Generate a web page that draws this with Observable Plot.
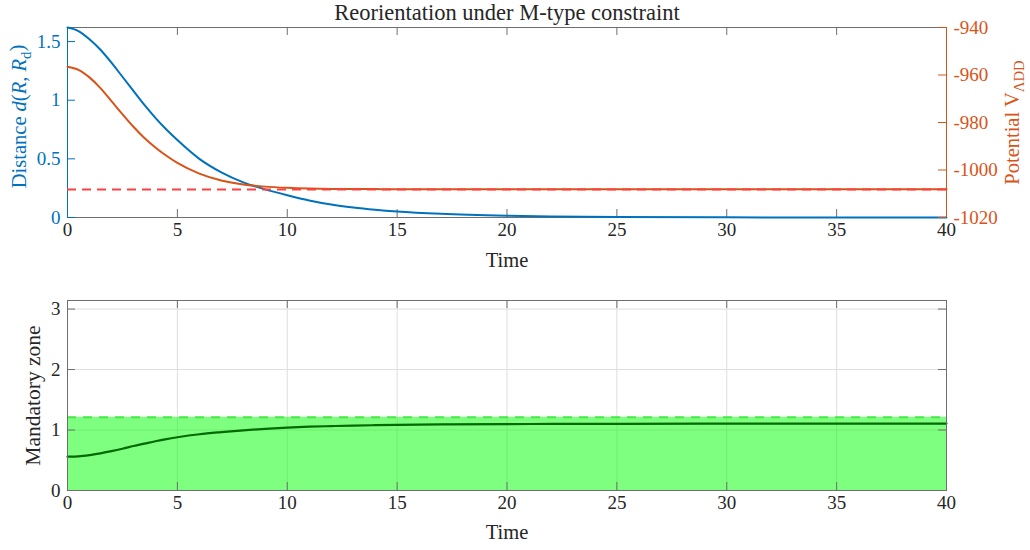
<!DOCTYPE html>
<html>
<head>
<meta charset="utf-8">
<script src="https://cdn.jsdelivr.net/npm/d3@7"></script>
<script src="https://cdn.jsdelivr.net/npm/@observablehq/plot@0.6"></script>
<style>
  html, body { margin: 0; padding: 0; background: #fff; overflow: hidden; }
  #wrap { position: relative; width: 1030px; height: 550px; }
  #wrap svg { position: absolute; left: 0; background: transparent; }
  #wrap svg text { font-family: 'Liberation Serif', 'DejaVu Serif', serif; }
</style>
</head>
<body>
<div id="wrap"></div>
<script>
// ---------------- data ----------------
const time      = [0, 0.5, 1, 1.5, 2, 2.5, 3, 3.5, 4, 4.5, 5, 6, 7, 8, 9, 10, 11, 12, 13, 14, 15, 17, 20, 22, 25, 30, 35, 40];
const distance  = [1.62, 1.59, 1.52, 1.43, 1.32, 1.20, 1.08, 0.96, 0.85, 0.75, 0.66, 0.50, 0.385, 0.30, 0.24, 0.19, 0.145, 0.11, 0.085, 0.066, 0.051, 0.031, 0.015, 0.009, 0.004, 0.0012, 0.0004, 0.0001];
const potential = [-956.5, -957.8, -961, -965.5, -971, -976.5, -981.8, -986.5, -990.5, -994, -997, -1001.5, -1004.4, -1006.1, -1007.0, -1007.5, -1007.8, -1007.95, -1008.0, -1008.05, -1008.1, -1008.1, -1008.15, -1008.15, -1008.15, -1008.15, -1008.15, -1008.15];
const zone      = [0.56, 0.565, 0.585, 0.615, 0.65, 0.69, 0.735, 0.775, 0.815, 0.85, 0.88, 0.93, 0.965, 0.995, 1.02, 1.04, 1.055, 1.065, 1.074, 1.08, 1.085, 1.092, 1.098, 1.1, 1.103, 1.105, 1.106, 1.106];
const potentialMin = -1008.2;
const zoneLimit = 1.21;
const distMax = 1.62;

const xTicks    = [0, 5, 10, 15, 20, 25, 30, 35, 40];
const distTicks = [0, 0.5, 1, 1.5];
const potTicks  = [-1020, -1000, -980, -960, -940];
const zoneTicks = [0, 1, 2, 3];

const titleText = "Reorientation under M-type constraint";
const xLabel    = "Time";
const distLabel = "Distance d(R, Rd)";
const potLabel  = "Potential VΛDD";
const zoneLabel = "Mandatory zone";

// ---------------- styles ----------------
const FONT = "'Liberation Serif', 'DejaVu Serif', serif";
const BLUE = "#0072BD", ORANGE = "#D95319", TXT = "#262626", LINE = "#6e6e6e";
const W = 1030, ML = 67, MR = 84;
const innerW = W - ML - MR;
const TICK = 8;
const TF = 19;   // tick font size
const LF = 20.5; // label font size
const TTF = 22.5; // title font size

const distData = time.map((t, i) => ({t, v: distance[i]}));
const potData  = time.map((t, i) => ({t, v: potential[i]}));
const zoneData = time.map((t, i) => ({t, v: zone[i]}));
const fmt = d => String(d);

const baseStyle = {fontFamily: FONT, fontSize: TF + "px", color: TXT, background: "transparent", overflow: "visible"};

// ---------------- top panel (left axis) ----------------
const H1 = 280, MT1 = 27, MB1 = 63, innerH1 = H1 - MT1 - MB1;
const p1 = Plot.plot({
  width: W, height: H1, marginTop: MT1, marginBottom: MB1, marginLeft: ML, marginRight: MR,
  style: baseStyle,
  x: {domain: [0, 40]},
  y: {domain: [0, distMax]},
  marks: [
    Plot.ruleY([distMax], {stroke: LINE}),
    Plot.ruleY([0], {stroke: LINE}),
    Plot.tickX(xTicks, {x: d => d, insetTop: innerH1 - TICK, stroke: LINE}),
    Plot.tickX(xTicks, {x: d => d, insetBottom: innerH1 - TICK, stroke: LINE}),
    Plot.tickY(distTicks, {y: d => d, insetRight: innerW - TICK, stroke: BLUE}),
    Plot.ruleX([0], {stroke: BLUE}),
    Plot.line(distData, {x: "t", y: "v", stroke: BLUE, strokeWidth: 2, curve: "monotone-x"}),
    Plot.axisX({ticks: xTicks, tickSize: 0, tickPadding: 5, tickFormat: fmt, label: null, fill: TXT, fontSize: TF, fontFamily: FONT}),
    Plot.axisY({ticks: distTicks, tickSize: 0, tickPadding: 7, tickFormat: fmt, label: null, color: BLUE, fill: BLUE, fontSize: TF, fontFamily: FONT}),
    Plot.text([xLabel], {frameAnchor: "bottom", lineAnchor: "middle", dy: 43, fontSize: LF, fill: TXT}),
    Plot.text([distLabel], {frameAnchor: "left", textAnchor: "middle", lineAnchor: "middle", dx: -48, dy: -6, rotate: -90, fontSize: LF, fill: BLUE}),
    Plot.text([titleText], {frameAnchor: "top", lineAnchor: "middle", dy: -15, fontSize: TTF, fill: TXT})
  ]
});

// ---------------- top panel (right axis overlay) ----------------
const p2 = Plot.plot({
  width: W, height: H1, marginTop: MT1, marginBottom: MB1, marginLeft: ML, marginRight: MR,
  style: baseStyle,
  x: {domain: [0, 40], axis: null},
  y: {domain: [-1020, -940], axis: null},
  marks: [
    Plot.ruleX([40], {stroke: ORANGE}),
    Plot.tickY(potTicks, {y: d => d, insetLeft: innerW - TICK, stroke: ORANGE}),
    Plot.line(potData, {x: "t", y: "v", stroke: ORANGE, strokeWidth: 2, curve: "monotone-x"}),
    Plot.ruleY([potentialMin], {stroke: "#FF4040", strokeWidth: 2, strokeDasharray: "9,6"}),
    Plot.axisY({anchor: "right", ticks: potTicks, tickSize: 0, tickPadding: 7, tickFormat: fmt, label: null, color: ORANGE, fill: ORANGE, fontSize: TF, fontFamily: FONT}),
    Plot.text([potLabel], {frameAnchor: "right", textAnchor: "middle", lineAnchor: "middle", dx: 66, rotate: -90, fontSize: LF, fill: ORANGE})
  ]
});

// ---------------- bottom panel ----------------
const H3 = 270, MT3 = 20, MB3 = 60, innerH3 = H3 - MT3 - MB3;
const p3 = Plot.plot({
  width: W, height: H3, marginTop: MT3, marginBottom: MB3, marginLeft: ML, marginRight: MR,
  style: baseStyle,
  x: {domain: [0, 40]},
  y: {domain: [0, Math.PI]},
  marks: [
    Plot.ruleX(xTicks.slice(1, -1), {x: d => d, stroke: "#dedede"}),
    Plot.ruleY(zoneTicks.slice(1), {y: d => d, stroke: "#dedede"}),
    Plot.areaY(zoneData, {x: "t", y: () => zoneLimit, fill: "#00FF00", fillOpacity: 0.5}),
    Plot.ruleY([zoneLimit], {stroke: "#4CE64C", strokeWidth: 2, strokeDasharray: "9,7"}),
    Plot.line(zoneData, {x: "t", y: "v", stroke: "#006A00", strokeWidth: 2.2, curve: "monotone-x"}),
    Plot.frame({stroke: LINE}),
    Plot.tickX(xTicks, {x: d => d, insetTop: innerH3 - TICK, stroke: LINE}),
    Plot.tickX(xTicks, {x: d => d, insetBottom: innerH3 - TICK, stroke: LINE}),
    Plot.tickY(zoneTicks, {y: d => d, insetRight: innerW - TICK, stroke: LINE}),
    Plot.tickY(zoneTicks, {y: d => d, insetLeft: innerW - TICK, stroke: LINE}),
    Plot.axisX({ticks: xTicks, tickSize: 0, tickPadding: 5, tickFormat: fmt, label: null, fill: TXT, fontSize: TF, fontFamily: FONT}),
    Plot.axisY({ticks: zoneTicks, tickSize: 0, tickPadding: 7, tickFormat: fmt, label: null, fill: TXT, fontSize: TF, fontFamily: FONT}),
    Plot.text([xLabel], {frameAnchor: "bottom", lineAnchor: "middle", dy: 42, fontSize: LF, fill: TXT}),
    Plot.text([zoneLabel], {frameAnchor: "left", textAnchor: "middle", lineAnchor: "middle", dx: -34, rotate: -90, fontSize: LF + 1, fill: TXT})
  ]
});

const wrap = document.getElementById("wrap");
p1.style.top = "0px"; p2.style.top = "0px"; p3.style.top = "280px";
wrap.append(p1, p2, p3);

// rich text for the math labels
function rich(svg, content, parts) {
  d3.select(svg).selectAll("text").filter(function() { return this.textContent === content; })
    .each(function() {
      const t = d3.select(this);
      t.text(null);
      parts.forEach(([s, style]) => {
        const sp = t.append("tspan").text(s);
        if (style === "i") sp.attr("font-style", "italic");
        if (style === "sub") sp.attr("font-size", "0.72em").attr("dy", "0.3em");
        if (style === "unsub") sp.attr("dy", "-0.3em");
      });
    });
}
rich(p1, distLabel, [["Distance ", ""], ["d", "i"], ["(", ""], ["R", "i"], [", ", ""], ["R", "i"], ["d", "sub"], [")", "unsub"]]);
rich(p2, potLabel, [["Potential V", ""], ["ΛDD", "sub"]]);
</script>
</body>
</html>
